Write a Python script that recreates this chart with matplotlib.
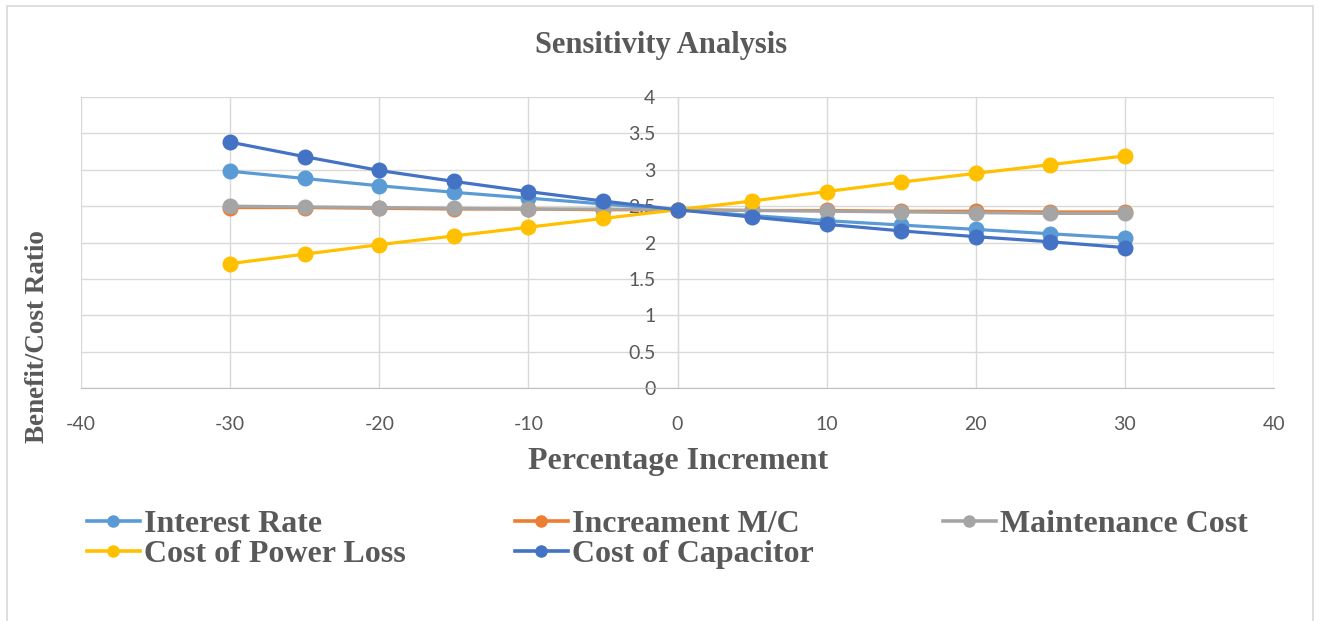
import matplotlib
matplotlib.use("Agg")
import matplotlib.pyplot as plt
from matplotlib.lines import Line2D
from matplotlib.patches import Rectangle

plt.rcParams["axes.unicode_minus"] = False

# data
pct = [-30, -25, -20, -15, -10, -5, 0, 5, 10, 15, 20, 25, 30]
interest_rate = [2.98, 2.88, 2.78, 2.69, 2.61, 2.53, 2.45, 2.37, 2.30, 2.24, 2.18, 2.12, 2.06]
increament_mc = [2.48, 2.48, 2.47, 2.46, 2.46, 2.45, 2.45, 2.44, 2.44, 2.43, 2.43, 2.42, 2.42]
maintenance = [2.50, 2.49, 2.48, 2.47, 2.46, 2.46, 2.45, 2.44, 2.43, 2.42, 2.41, 2.40, 2.40]
power_loss = [1.71, 1.84, 1.97, 2.09, 2.21, 2.33, 2.45, 2.57, 2.70, 2.83, 2.95, 3.07, 3.19]
capacitor = [3.38, 3.18, 2.99, 2.84, 2.70, 2.57, 2.45, 2.35, 2.25, 2.16, 2.08, 2.01, 1.93]

names = ["Interest Rate", "Increament M/C", "Maintenance Cost",
         "Cost of Power Loss", "Cost of Capacitor"]
series = [interest_rate, increament_mc, maintenance, power_loss, capacitor]
colors = ["#5B9BD5", "#ED7D31", "#A5A5A5", "#FFC000", "#4472C4"]

xticks = [-40, -30, -20, -10, 0, 10, 20, 30, 40]
yticks = [0, 0.5, 1, 1.5, 2, 2.5, 3, 3.5, 4]

txt = "#595959"
grid_c = "#d9d9d9"
serif = "Liberation Serif"

fig = plt.figure(figsize=(13.18, 6.21), dpi=100)
fig.patches.append(Rectangle((7 / 1318, -0.02), 1306 / 1318, 1.02 - 6 / 621,
                             transform=fig.transFigure, fill=False,
                             edgecolor=grid_c, lw=1.2))

ax = fig.add_axes([81 / 1318, 1 - 388 / 621, (1274 - 81) / 1318, (388 - 97) / 621])

for s, c, n in zip(series, colors, names):
    ax.plot(pct, s, color=c, lw=2.3, marker="o", ms=10.5, label=n, zorder=3)

ax.set_xlim(-40, 40)
ax.set_ylim(0, 4)
ax.set_xticks(xticks)
ax.set_yticks(yticks)
ax.set_yticklabels([f"{v:g}" for v in yticks])
ax.grid(True, color=grid_c, lw=1.0, zorder=0)
for sp in ["top", "right"]:
    ax.spines[sp].set_visible(False)
ax.spines["left"].set_position(("data", 0))
ax.spines["left"].set_color("#bfbfbf")
ax.spines["bottom"].set_color("#bfbfbf")
ax.spines["left"].set_zorder(1)
ax.tick_params(length=0, labelsize=14, labelcolor=txt)
ax.tick_params(axis="x", pad=20)
ax.tick_params(axis="y", pad=16)
for lab in ax.get_xticklabels() + ax.get_yticklabels():
    lab.set_family("Lato")

fig.text(661 / 1318, 1 - 45 / 621, "Sensitivity Analysis", ha="center", va="center",
         family=serif, weight="bold", fontsize=22, color=txt)
fig.text(678 / 1318, 1 - 461 / 621, "Percentage Increment", ha="center", va="center",
         family=serif, weight="bold", fontsize=23, color=txt)
fig.text(38 / 1318, 1 - 337 / 621, "Benefit/Cost Ratio", ha="center", va="center",
         rotation=90, family=serif, weight="bold", fontsize=19.5, color=txt)

handles = [Line2D([], [], color=c, lw=2.6, marker="o", ms=8) for c in colors]
cols = [[0, 3], [1, 4], [2]]
col_x = [87, 515, 943]
for idx, x0 in zip(cols, col_x):
    leg = fig.legend([handles[i] for i in idx], [names[i] for i in idx],
                     loc="upper left", bbox_to_anchor=(x0 / 1318, 1 - 510 / 621),
                     frameon=False, borderpad=0, borderaxespad=0,
                     handlelength=1.65, handletextpad=0.15, labelspacing=0.02,
                     prop={"family": serif, "weight": "bold", "size": 23})
    for t in leg.get_texts():
        t.set_color(txt)

fig.savefig("out.png", dpi=100)
